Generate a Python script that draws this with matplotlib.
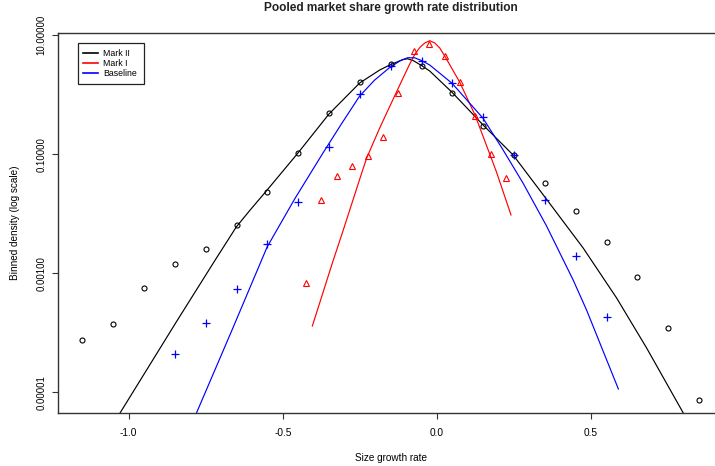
import matplotlib
matplotlib.use("Agg")
import matplotlib.pyplot as plt
from matplotlib.lines import Line2D
from matplotlib.ticker import FixedLocator, FixedFormatter, NullLocator

plt.rcParams['font.family'] = ['Liberation Sans', 'DejaVu Sans']
plt.rcParams['axes.unicode_minus'] = False

# Binned densities (bin centres and heights)
mark2_x = [-1.15, -1.05, -0.95, -0.85, -0.75, -0.65, -0.55, -0.45, -0.35, -0.25, -0.15,
           -0.05, 0.05, 0.15, 0.25, 0.35, 0.45, 0.55, 0.65, 0.75, 0.85]
mark2_y = [7.48e-5, 1.41e-4, 5.66e-4, 1.42e-3, 2.57e-3, 6.34e-3, 0.0227, 0.1026, 0.495, 1.60, 3.21,
           3.01, 1.07, 0.296, 0.0951, 0.0330, 0.01089, 3.32e-3, 8.57e-4, 1.19e-4, 7.43e-6]

mark1_x = [-0.425, -0.375, -0.325, -0.275, -0.225, -0.175, -0.125, -0.075, -0.025,
           0.025, 0.075, 0.125, 0.175, 0.225]
mark1_y = [6.87e-4, 0.01667, 0.0427, 0.0635, 0.0925, 0.1954, 1.047, 5.44, 6.98,
           4.49, 1.60, 0.441, 0.0989, 0.0395]

base_x = [-0.85, -0.75, -0.65, -0.55, -0.45, -0.35, -0.25, -0.15, -0.05,
          0.05, 0.15, 0.25, 0.35, 0.45, 0.55]
base_y = [4.31e-5, 1.43e-4, 5.45e-4, 3.07e-3, 0.0158, 0.131, 1.007, 3.05, 3.66,
          1.54, 0.424, 0.0962, 0.0169, 1.95e-3, 1.85e-4]

# Fitted density curves
mark2_fit_x = [-1.04, -0.8455, -0.7212, -0.6508, -0.6076, -0.5534, -0.4508, -0.3502, -0.2506,
               -0.1857, -0.1532, -0.1100, -0.095, -0.0776, -0.0503, -0.0234, 0.0490, 0.1496,
               0.2470, 0.3499, 0.4742, 0.5826, 0.6800, 0.81]
mark2_fit_y = [3.55e-6, 1.514e-4, 1.603e-3, 5.97e-3, 0.01122, 0.02399, 0.1042, 0.4710, 1.563,
               2.582, 3.133, 3.882, 3.981, 3.733, 3.076, 2.483, 1.091, 0.3083,
               0.09661, 0.01905, 2.649e-3, 3.837e-4, 5.546e-5, 3.55e-6]

mark1_fit_x = [-0.4041, -0.3392, -0.3048, -0.2451, -0.2278, -0.1857, -0.1305, -0.1045, -0.0883,
               -0.0721, -0.0558, -0.0396, -0.0234, -0.0071, 0.0091, 0.0253, 0.0740, 0.1237,
               0.1730, 0.1931, 0.2402]
mark1_fit_y = [1.297e-4, 1.483e-3, 5.117e-3, 0.04634, 0.08610, 0.2742, 1.125, 2.173, 3.258,
               4.710, 6.166, 7.345, 8.017, 7.345, 6.053, 4.436, 1.607, 0.4498,
               0.09462, 0.05000, 9.484e-3]

base_fit_x = [-0.79, -0.6618, -0.5508, -0.4615, -0.3697, -0.3100, -0.2506, -0.2019, -0.1532,
              -0.1207, -0.0948, -0.0721, -0.0503, -0.0234, 0.0490, 0.1496, 0.2126, 0.2795,
              0.3554, 0.4417, 0.4852, 0.5884]
base_fit_y = [3.39e-6, 1.202e-4, 2.754e-3, 0.01762, 0.1042, 0.3199, 0.9462, 1.754, 2.844,
              3.656, 4.159, 4.140, 3.733, 3.133, 1.545, 0.3990, 0.1219, 0.03236,
              6.209e-3, 7.691e-4, 2.410e-4, 1.135e-5]

series_labels = ["Mark II", "Mark I", "Baseline"]
series_colors = ["black", "#FF0000", "#0000FF"]

x_ticks = [-1.0, -0.5, 0.0, 0.5]
x_tick_labels = ["-1.0", "-0.5", "0.0", "0.5"]
y_ticks = [1e1, 1e-1, 1e-3, 1e-5]
y_tick_labels = ["10.00000", "0.10000", "0.00100", "0.00001"]

W, H = 715, 466
fig = plt.figure(figsize=(W / 100, H / 100), dpi=100)
left_px, right_px, top_px, bottom_px = 57.7, 723.7, 32.7, 413.3
ax = fig.add_axes([left_px / W, 1 - bottom_px / H, (right_px - left_px) / W, (bottom_px - top_px) / H])

lw = 0.85
ax.plot(mark2_fit_x, mark2_fit_y, color=series_colors[0], lw=lw)
ax.plot(mark1_fit_x, mark1_fit_y, color=series_colors[1], lw=lw)
ax.plot(base_fit_x, base_fit_y, color=series_colors[2], lw=lw)

ax.plot(mark2_x, mark2_y, linestyle="none", marker="o", ms=3.6, mfc="none",
        mec=series_colors[0], mew=0.8)
ax.plot(mark1_x, mark1_y, linestyle="none", marker="^", ms=4.6, mfc="none",
        mec=series_colors[1], mew=0.8)
ax.plot(base_x, base_y, linestyle="none", marker="+", ms=5.5,
        mec=series_colors[2], mew=0.9)

ax.set_yscale("log")
ax.set_xlim(-1.23, 0.93)
ax.set_ylim(10 ** -5.353, 10 ** 1.0386)

ax.xaxis.set_major_locator(FixedLocator(x_ticks))
ax.xaxis.set_major_formatter(FixedFormatter(x_tick_labels))
ax.xaxis.set_minor_locator(NullLocator())
ax.yaxis.set_major_locator(FixedLocator(y_ticks))
ax.yaxis.set_major_formatter(FixedFormatter(y_tick_labels))
ax.yaxis.set_minor_locator(NullLocator())

ax.tick_params(axis="both", direction="out", length=4.6, width=0.8, color="#333333")
ax.tick_params(axis="x", pad=6, labelsize=7.3)
ax.tick_params(axis="y", pad=3.5, labelsize=6.9)
for lab in ax.get_yticklabels():
    lab.set_rotation(90)
    lab.set_va("center")

for sp in ax.spines.values():
    sp.set_linewidth(1.0)
    sp.set_color("#333333")

handles = [Line2D([], [], color=c, lw=1.2) for c in series_colors]
leg = ax.legend(handles, series_labels, loc="upper left", bbox_to_anchor=(0.030, 0.0, 0.1, 0.972),
                mode="expand", borderaxespad=0, fontsize=6.3, handlelength=1.75, handletextpad=0.55,
                labelspacing=0.16, borderpad=0.6, fancybox=False, framealpha=1)
leg.get_frame().set_edgecolor("#222222")
leg.get_frame().set_linewidth(0.9)

fig.text(390.7 / W, 1 - 7.8 / H, "Pooled market share growth rate distribution",
         ha="center", va="center", fontsize=8.6, fontweight="bold", color="#222222")
fig.text(391 / W, 1 - 457.7 / H, "Size growth rate", ha="center", va="center", fontsize=7.2)
fig.text(15 / W, 1 - 223 / H, "Binned density (log scale)", ha="center", va="center",
         rotation=90, fontsize=7.2)

fig.savefig("out.png", dpi=100)
